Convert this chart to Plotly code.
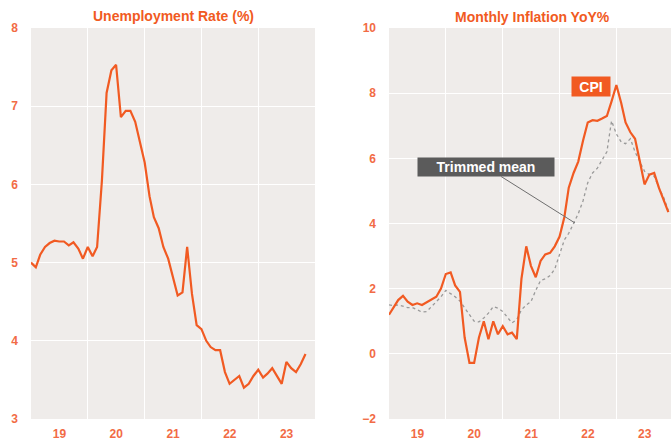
import pandas as pd
import plotly.graph_objects as go

# ---------------- data ----------------
unemp_dates = pd.date_range("2019-01-01", periods=59, freq="MS")
unemployment = [
    5.0, 4.94, 5.1, 5.2, 5.25, 5.28, 5.27, 5.27, 5.22, 5.26, 5.18, 5.05,
    5.2, 5.08, 5.2, 6.05, 7.17, 7.46, 7.53, 6.86, 6.94, 6.94, 6.8, 6.54,
    6.28, 5.85, 5.58, 5.44, 5.2, 5.05, 4.8, 4.58, 4.62, 5.2, 4.6, 4.2,
    4.15, 4.0, 3.92, 3.88, 3.88, 3.6, 3.45, 3.5, 3.55, 3.4, 3.45, 3.55,
    3.63, 3.53, 3.58, 3.65, 3.55, 3.45, 3.73, 3.65, 3.6, 3.7, 3.83,
]

infl_dates = pd.date_range("2019-01-01", periods=60, freq="MS")
cpi = [
    1.2, 1.45, 1.65, 1.78, 1.6, 1.5, 1.55, 1.5, 1.58, 1.68, 1.75, 2.0,
    2.45, 2.5, 2.1, 1.9, 0.5, -0.28, -0.28, 0.5, 1.0, 0.45, 1.0, 0.6,
    0.85, 0.6, 0.65, 0.45, 2.3, 3.3, 2.7, 2.35, 2.85, 3.05, 3.1, 3.3,
    3.6, 4.2, 5.1, 5.55, 5.9, 6.55, 7.1, 7.17, 7.15, 7.22, 7.3, 7.75,
    8.25, 7.7, 7.1, 6.8, 6.6, 5.9, 5.2, 5.5, 5.55, 5.1, 4.7, 4.35,
]
trimmed_mean = [
    1.5, 1.48, 1.5, 1.45, 1.42, 1.42, 1.35, 1.28, 1.3, 1.45, 1.6, 1.75,
    1.95, 1.85, 1.75, 1.62, 1.4, 1.2, 1.0, 0.98, 1.1, 1.25, 1.45, 1.4,
    1.3, 1.1, 0.95, 1.05, 1.35, 1.5, 1.6, 1.95, 2.25, 2.3, 2.4, 2.6,
    3.05, 3.5, 3.7, 4.0, 4.3, 4.7, 5.25, 5.55, 5.7, 5.95, 6.2, 7.15,
    6.75, 6.5, 6.45, 6.6, 6.2, 5.9, 5.6, 5.5, 5.45, 5.1, 4.8, 4.4,
]

left_ticks = [3, 4, 5, 6, 7, 8]
right_ticks = [-2, 0, 2, 4, 6, 8, 10]

# ---------------- style ----------------
W, H = 671, 444
ORANGE = "#F15A22"
LABEL = "#F26B45"
BG = "#EFECEA"
GREY = "#9A9A9A"
FONT = "Liberation Sans"


def px_x(p):
    return p / W


def px_y(p):
    return (H - p) / H


fig = go.Figure()
fig.add_trace(go.Scatter(x=unemp_dates, y=unemployment, mode="lines",
                         line=dict(color=ORANGE, width=2.2),
                         xaxis="x", yaxis="y", showlegend=False))
fig.add_trace(go.Scatter(x=infl_dates, y=trimmed_mean, mode="lines",
                         line=dict(color=GREY, width=1.3, dash="dot"),
                         xaxis="x2", yaxis="y2", showlegend=False))
fig.add_trace(go.Scatter(x=infl_dates, y=cpi, mode="lines",
                         line=dict(color=ORANGE, width=2.2),
                         xaxis="x2", yaxis="y2", showlegend=False))

ydom = [px_y(419), px_y(28)]
xcommon = dict(type="date", dtick="M12", tick0="2019-01-01", tickformat="%y",
               ticklabelmode="period", showgrid=True, gridcolor="#FFFFFF",
               gridwidth=1, zeroline=False, showline=False, ticks="",
               ticklabelstandoff=6, automargin=False,
               tickfont=dict(family=FONT, size=12, color=LABEL, weight="bold"))
ycommon = dict(showgrid=True, gridcolor="#FFFFFF", gridwidth=1, zeroline=False,
               showline=False, ticks="", ticklabelstandoff=12, automargin=False,
               tickfont=dict(family=FONT, size=12, color=LABEL, weight="bold"))

fig.update_layout(
    width=W, height=H,
    margin=dict(l=0, r=0, t=0, b=0, autoexpand=False),
    paper_bgcolor="white",
    plot_bgcolor=BG,
    xaxis=dict(domain=[px_x(31), px_x(315)],
               range=["2019-01-01", "2024-01-01"], anchor="y", **xcommon),
    yaxis=dict(domain=ydom, range=[3, 8], tickvals=left_ticks, anchor="x",
               **ycommon),
    xaxis2=dict(domain=[px_x(389), 1.0],
                range=["2019-01-01", "2023-12-18"], anchor="y2", **xcommon),
    yaxis2=dict(domain=ydom, range=[-2, 10], tickvals=right_ticks, anchor="x2",
                **ycommon),
)

annotations = [
    dict(text="<b>Unemployment Rate (%)</b>", x=px_x(173), y=px_y(16),
         xref="paper", yref="paper", showarrow=False, xanchor="center",
         yanchor="middle", font=dict(family=FONT, size=14, color=ORANGE)),
    dict(text="<b>Monthly Inflation YoY%</b>", x=px_x(532), y=px_y(17),
         xref="paper", yref="paper", showarrow=False, xanchor="center",
         yanchor="middle", font=dict(family=FONT, size=14, color=ORANGE)),
    dict(text="<b>CPI</b>", x=px_x(591), y=px_y(86), xref="paper",
         yref="paper", showarrow=False, xanchor="center", yanchor="middle",
         bgcolor=ORANGE, width=36, height=17, borderpad=1,
         font=dict(family=FONT, size=14, color="white")),
    dict(text="<b>Trimmed mean</b>", x=px_x(575), y=px_y(223), xref="paper",
         yref="paper", showarrow=True, arrowhead=0, arrowwidth=1,
         arrowcolor="#6E6E6E", ax=-89, ay=-56,
         bgcolor="#5B5B5B", width=134, height=16, borderpad=1,
         font=dict(family=FONT, size=14, color="white")),
]
fig.update_layout(annotations=annotations)

fig.write_html(
    "out.html",
    config={"displayModeBar": False},
    post_script="document.body.style.margin='0';"
                "document.documentElement.style.overflow='hidden';",
)
